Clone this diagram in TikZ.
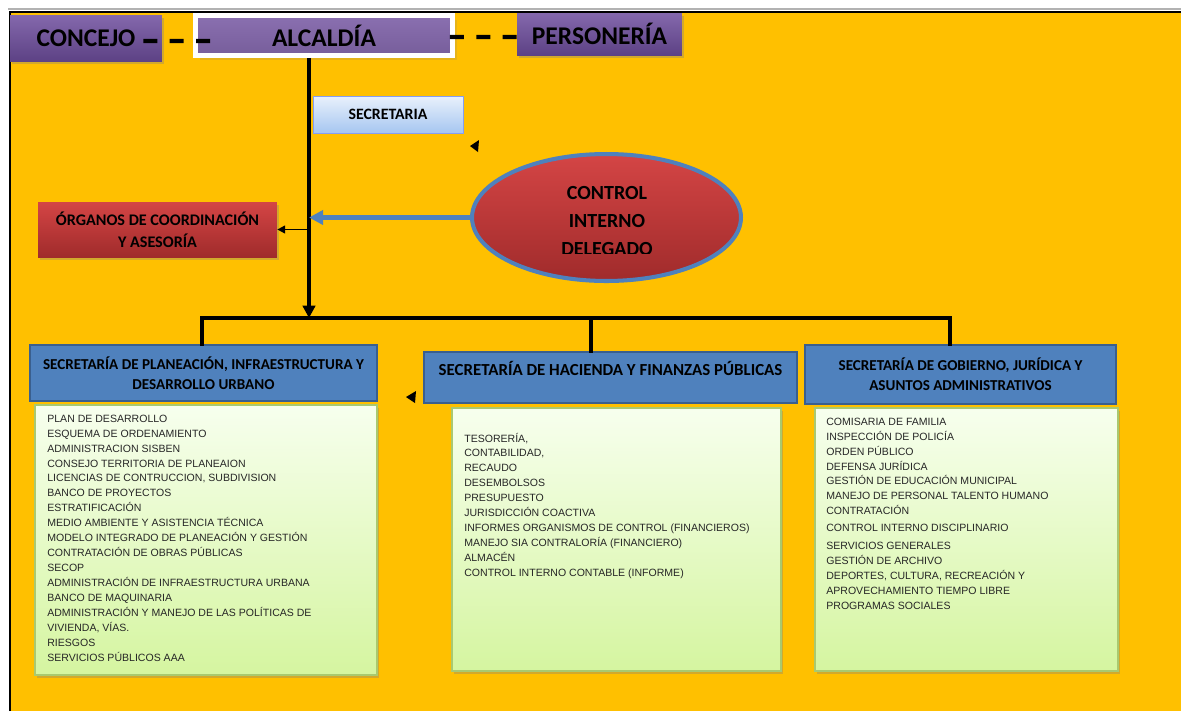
\documentclass[tikz,border=0pt]{standalone}
\usepackage{fontspec}
\setmainfont{Liberation Sans}
\newfontfamily\calibri{Carlito}
\usepackage{tikz}
\usetikzlibrary{positioning,shadows,arrows.meta,shapes.geometric}

\definecolor{fondo}{HTML}{FFC000}
\definecolor{morado}{HTML}{8468AC}
\definecolor{moradoosc}{HTML}{5D4285}
\definecolor{azulsec}{HTML}{4F81BD}
\definecolor{azulborde}{HTML}{3A5F8E}
\definecolor{rojo}{HTML}{D44545}
\definecolor{rojoosc}{HTML}{A02B2B}
\definecolor{celeste}{HTML}{E9F1FC}
\definecolor{celesteosc}{HTML}{A6C6F0}
\definecolor{verdeclaro}{HTML}{F7FFEE}
\definecolor{verde}{HTML}{D5F5A0}
\definecolor{verdeborde}{HTML}{A9C970}

\begin{document}
\begin{tikzpicture}[x=0.02cm,y=-0.02cm,
  sombra/.style={drop shadow={opacity=.35,shadow xshift=1.2pt,shadow yshift=-1.5pt}},
  mando/.style={rectangle,top color=morado,bottom color=moradoosc,inner sep=0pt,
    font=\calibri\bfseries\fontsize{14.5}{16}\selectfont,sombra},
  rojobox/.style={rectangle,top color=rojo,bottom color=rojoosc,inner sep=0pt,align=center,
    font=\calibri\bfseries\fontsize{9.2}{12.5}\selectfont,sombra},
  jefe/.style={rectangle,fill=azulsec,draw=azulborde,line width=1.1pt,inner sep=0pt,align=center,
    font=\calibri\bfseries\fontsize{8.6}{11.3}\selectfont},
  lista/.style={rectangle,top color=verdeclaro,bottom color=verde,draw=verdeborde,line width=.8pt,sombra},
  items/.style={anchor=north west,align=left,inner sep=0pt,text=black!85,font=\fontsize{6}{8.5}\selectfont},
  guion/.style={line width=2.3pt,dash pattern=on 8pt off 7pt},
  barra/.style={line width=2.6pt,line cap=rect}]
  \useasboundingbox (0,0) rectangle (1181,711);
  \fill[white] (0,0) rectangle (1181,711);
  \fill[fondo] (10,12) rectangle (1181,711);
  \draw[gray!60,line width=.6pt] (8,9) -- (1181,9);
  \draw[line width=1.7pt] (10,711) -- (10,12) -- (1181,12);

  \node[mando,minimum width=3.04cm,minimum height=.92cm] (concejo) at (86,38) {\raisebox{-1.5pt}{CONCEJO}};
  \node[mando,top color=morado!95!white,bottom color=morado!90!black,draw=white,line width=2.8pt,
    drop shadow={opacity=.2},minimum width=5.14cm,minimum height=.8cm] (alcaldia) at (324,35.5) {\raisebox{-2pt}{ALCALDÍA}};
  \node[mando,minimum width=3.3cm,minimum height=.84cm] (personeria) at (599.5,34) {\raisebox{-1.5pt}{PERSONERÍA}};
  \draw[guion] ([shift={(-19,3)}]concejo.east) -- ([shift={(22,5.5)}]alcaldia.west);
  \draw[guion] ([shift={(-5,1.5)}]alcaldia.east) -- ([shift={(5,3)}]personeria.west);

  \node[rectangle,top color=celeste,bottom color=celesteosc,draw=celesteosc!80!blue,line width=.5pt,
    minimum width=3cm,minimum height=.74cm,font=\calibri\bfseries\fontsize{9}{11}\selectfont] (secretaria) at (388,114.5) {SECRETARIA};

  \node[ellipse,top color=rojo,bottom color=rojoosc,draw=azulsec,line width=2.3pt,
    minimum width=5.38cm,minimum height=2.54cm,inner sep=0pt] (control) at (606.5,217.5) {};
  \begin{scope}
    \clip (470,150) rectangle (745,253);
    \node[align=center,inner sep=0pt,font=\calibri\bfseries\fontsize{11.4}{16}\selectfont] (controltxt) at (607,221) {CONTROL\\INTERNO\\DELEGADO};
  \end{scope}

  \node[rojobox,minimum width=4.78cm,minimum height=1.1cm] (organos) at (157.5,229.5) {ÓRGANOS DE COORDINACIÓN\\Y ASESORÍA};

  \node[jefe,minimum width=6.94cm,minimum height=1.12cm] (hplan) at (203.5,373) {SECRETARÍA DE PLANEACIÓN, INFRAESTRUCTURA Y\\DESARROLLO URBANO};
  \node[jefe,minimum width=7.46cm,minimum height=1.02cm,text height=6pt,text depth=8pt,
    font=\calibri\bfseries\fontsize{9.6}{12}\selectfont] (hhac) at (610.5,377.5) {SECRETARÍA DE HACIENDA Y FINANZAS PÚBLICAS};
  \node[jefe,minimum width=6.22cm,minimum height=1.18cm] (hgob) at (960.5,374.5) {SECRETARÍA DE GOBIERNO, JURÍDICA Y\\ASUNTOS ADMINISTRATIVOS};

  \node[lista,minimum width=6.84cm,minimum height=5.4cm] (lplan) at (206,540) {};
  \node[lista,minimum width=6.58cm,minimum height=5.26cm] (lhac) at (616.5,539.5) {};
  \node[lista,minimum width=6.06cm,minimum height=5.26cm] (lgob) at (966.5,539.5) {};

  \node[items] (tplan) at (47,414.5) {PLAN DE DESARROLLO\\ESQUEMA DE ORDENAMIENTO\\ADMINISTRACION SISBEN\\
    CONSEJO TERRITORIA DE PLANEAION\\LICENCIAS DE CONTRUCCION, SUBDIVISION\\BANCO DE PROYECTOS\\
    ESTRATIFICACIÓN\\MEDIO AMBIENTE Y ASISTENCIA TÉCNICA\\MODELO INTEGRADO DE PLANEACIÓN Y GESTIÓN\\
    CONTRATACIÓN DE OBRAS PÚBLICAS\\SECOP\\ADMINISTRACIÓN DE INFRAESTRUCTURA URBANA\\BANCO DE MAQUINARIA\\
    ADMINISTRACIÓN Y MANEJO DE LAS POLÍTICAS DE\\VIVIENDA, VÍAS.\\RIESGOS\\SERVICIOS PÚBLICOS AAA};
  \node[items] (thac) at (464,432.5) {TESORERÍA,\\CONTABILIDAD,\\RECAUDO\\DESEMBOLSOS\\PRESUPUESTO\\
    JURISDICCIÓN COACTIVA\\INFORMES ORGANISMOS DE CONTROL (FINANCIEROS)\\MANEJO SIA CONTRALORÍA (FINANCIERO)\\
    ALMACÉN\\CONTROL INTERNO CONTABLE (INFORME)};
  \node[items] (tgob) at (826,417.5) {COMISARIA DE FAMILIA\\INSPECCIÓN DE POLICÍA\\ORDEN PÚBLICO\\DEFENSA JURÍDICA\\
    GESTIÓN DE EDUCACIÓN MUNICIPAL\\MANEJO DE PERSONAL TALENTO HUMANO\\CONTRATACIÓN\\[1pt]
    CONTROL INTERNO DISCIPLINARIO\\[2pt]SERVICIOS GENERALES\\GESTIÓN DE ARCHIVO\\DEPORTES, CULTURA, RECREACIÓN Y\\
    APROVECHAMIENTO TIEMPO LIBRE\\PROGRAMAS SOCIALES};

  \coordinate (tronco) at (309,318);
  \coordinate (barraizq) at (202,318);
  \coordinate (barramed) at (591,318);
  \coordinate (barrader) at (950,318);
  \draw[barra] (barraizq) -- (barrader);
  \draw[barra] (barraizq) -- (barraizq |- hplan.north);
  \draw[barra] (barramed) -- (barramed |- hhac.north);
  \draw[barra] (barrader) -- (barrader |- hgob.north);
  \draw[line width=2.3pt,-{Triangle[length=7pt,width=7pt]}] (alcaldia.south -| tronco) -- (tronco);
  \draw[azulsec,line width=2.3pt,-{Triangle[length=8pt,width=8pt]}] (control.west) -- (control.west -| tronco);
  \draw[line width=1pt,-{Triangle[length=4.5pt,width=4.5pt]}] (organos.east -| tronco) -- (organos.east);

  \fill (470,146) -- (479,140) -- (478,152) -- cycle;
  \fill (406,397) -- (416,391) -- (415,403) -- cycle;
\end{tikzpicture}
\end{document}
